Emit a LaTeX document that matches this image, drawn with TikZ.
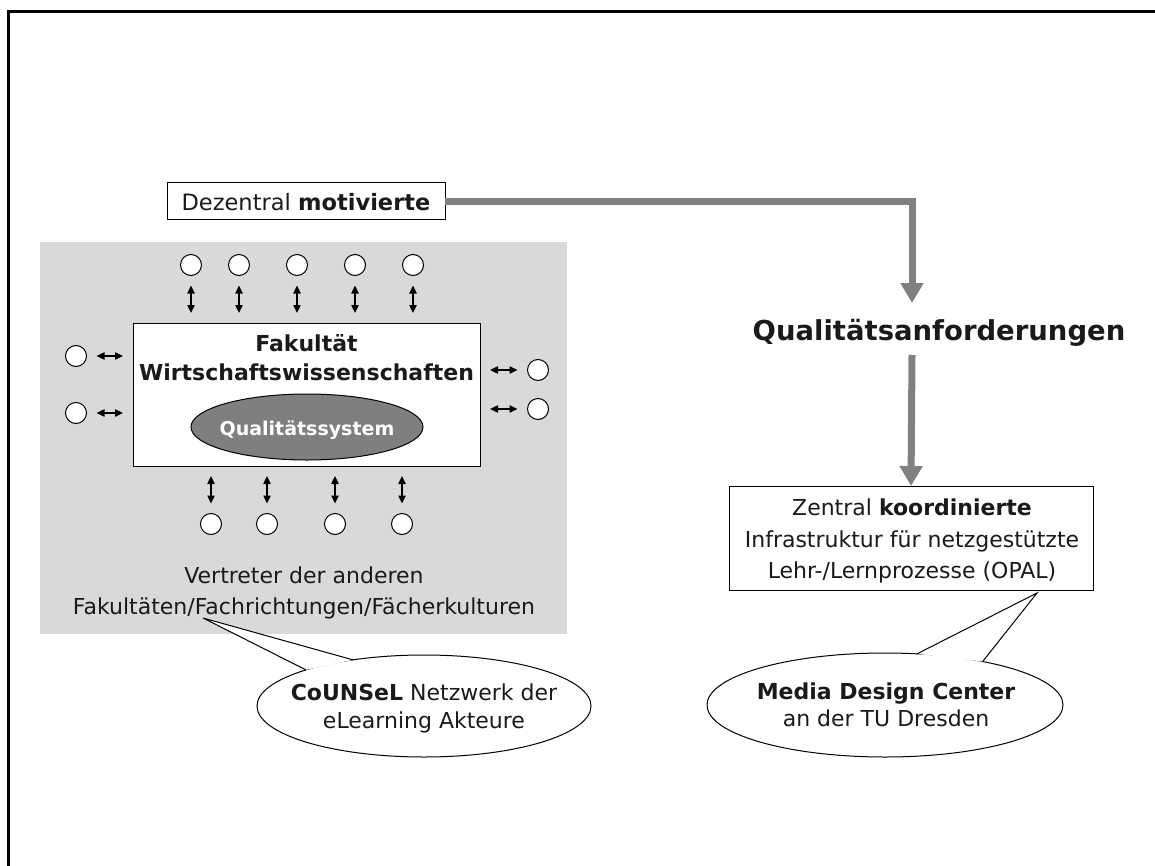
\documentclass[tikz,border=0pt]{standalone}
\usepackage{fontspec}
\setmainfont{DejaVu Sans}
\usetikzlibrary{arrows.meta,shapes.geometric}
\definecolor{panel}{HTML}{D9D9D9}
\definecolor{flow}{HTML}{808080}
\definecolor{core}{HTML}{7F7F7F}
\definecolor{ink}{HTML}{1A1A1A}

\begin{document}
\begin{tikzpicture}[x=0.75pt,y=-0.75pt,
  txt/.style={anchor=base,inner sep=0pt,font=\fontsize{16.5}{20}\selectfont,text=ink},
  txtb/.style={txt,font=\fontsize{16.5}{20}\selectfont\bfseries},
  big/.style={anchor=base,inner sep=0pt,font=\fontsize{20.6}{24}\selectfont\bfseries,text=ink},
  peer/.style={circle,draw,fill=white,line width=0.75pt,minimum size=15.75pt,inner sep=0pt,outer sep=0pt},
  link/.style={line width=1pt,{Triangle[length=6pt,width=5.5pt]}-{Triangle[length=6pt,width=5.5pt]},
    shorten <=7.5pt,shorten >=7.5pt},
  flowarrow/.style={draw=flow,line width=5.25pt,-{Triangle[length=15pt,width=16.5pt]}},
  box/.style={draw,fill=white,line width=0.75pt,inner sep=0pt,outer sep=0pt},
  bubble/.style={ellipse,draw,fill=white,line width=0.75pt,inner sep=0pt,outer sep=0pt},
  pointer/.style={line width=0.75pt,line join=miter}
]
\useasboundingbox (0,0) rectangle (1155,866);

% page frame (top and left edges)
\draw[line width=2.25pt] (8.5,880) -- (8.5,11.5) -- (1170,11.5);

% grey panel with the faculty network
\fill[panel] (40,242) rectangle (567,634);

% decentral source box
\node[box,minimum width=208.5pt,minimum height=27.75pt] (dez) at (306,201.5) {};
\node[txt,font=\fontsize{16.9}{20}\selectfont] (dezt) at (306,210) {Dezentral \textbf{motivierte}};

% faculty box with quality system
\node[box,minimum width=260.25pt,minimum height=107.25pt] (fak) at (306.5,394.5) {};
\node[txtb] (fak1) at (306.5,351) {Fakultät};
\node[txtb] (fak2) at (306.5,380) {Wirtschaftswissenschaften};
\node[ellipse,draw,fill=core,line width=0.75pt,minimum width=174pt,minimum height=49.5pt,inner sep=0pt] (qs) at (307,427) {};
\node[anchor=base,inner sep=0pt,text=white,font=\fontsize{14.25}{17}\selectfont\bfseries] (qst) at (307,435) {Qualitätssystem};

% representatives around the faculty
\foreach \n/\x in {1/191,2/239,3/297,4/355,5/413}{
  \node[peer] (t\n) at (\x,265) {};
  \draw[link] (t\n) -- (t\n |- fak.north);
}
\foreach \n/\x in {1/211,2/267,3/335,4/402}{
  \node[peer] (b\n) at (\x,524) {};
  \draw[link] (fak.south -| b\n) -- (b\n);
}
\foreach \n/\y in {1/356,2/413}{
  \node[peer] (l\n) at (76,\y) {};
  \draw[link] (l\n) -- (l\n -| fak.west);
}
\foreach \n/\y in {1/370,2/409}{
  \node[peer] (r\n) at (538,\y) {};
  \draw[link] (fak.east |- r\n) -- (r\n);
}

\node[txt] (rep1) at (304,583) {Vertreter der anderen};
\node[txt] (rep2) at (304,614) {Fakultäten/Fachrichtungen/Fächerkulturen};

% central side
\node[big] (qa) at (939,340) {Qualitätsanforderungen};
\coordinate (qin) at (912,303);
\coordinate (qout) at (912,355);
\node[box,minimum width=273pt,minimum height=78pt] (zen) at (911,538) {};
\node[txt] (zen1) at (912,515) {Zentral \textbf{koordinierte}};
\node[txt] (zen2) at (912,547) {Infrastruktur für netzgestützte};
\node[txt] (zen3) at (912,578) {Lehr-/Lernprozesse (OPAL)};

\draw[flowarrow] (dez.east) -| (qin);
\draw[flowarrow] (qout) -- (zen.north);

% speech bubbles
\node[bubble,minimum width=250.5pt,minimum height=76.5pt] (cb) at (424,706) {};
\coordinate (ctip) at (203,618);
\fill[white] (cb.163.8) -- (ctip) -- (cb.147) -- cycle;
\draw[pointer] (cb.163.8) -- (ctip) -- (cb.147);
\node[txt] (cb1) at (424,700) {\textbf{CoUNSeL} Netzwerk der};
\node[txt] (cb2) at (424,728) {eLearning Akteure};

\node[bubble,minimum width=267pt,minimum height=78pt] (mb) at (885,705) {};
\coordinate (mtip) at (1037,593);
\fill[white] (mb.58) -- (mtip) -- (mb.24.7) -- cycle;
\draw[pointer] (mb.58) -- (mtip) -- (mb.24.7);
\node[txtb] (mb1) at (886,699) {Media Design Center};
\node[txt] (mb2) at (886,726) {an der TU Dresden};
\end{tikzpicture}
\end{document}
